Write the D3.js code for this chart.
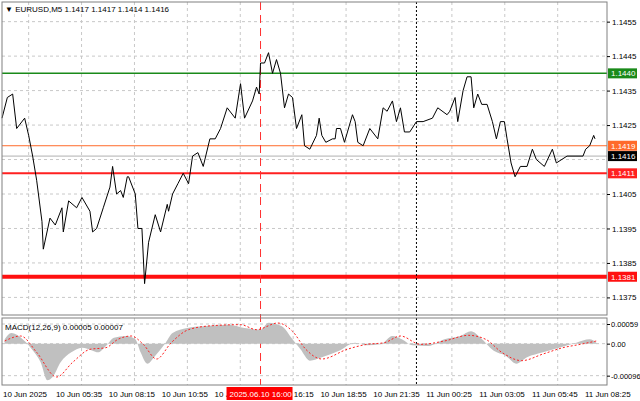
<!DOCTYPE html>
<html>
<head>
<meta charset="utf-8">
<script src="https://cdn.jsdelivr.net/npm/d3@7"></script>
<style>
body { margin: 0; background: #fff; }
text { font-family: "Liberation Sans", Arial, sans-serif; font-size: 8px; }
</style>
</head>
<body>
<div id="chart"></div>
<script>
// price trace (bar index, close)
let priceBars = [0,4,8,11,17,20,23,26,30,31,36,40,45,46,50,56,60,66,68,71,76,81,83,86,89,91,94,95,100,102,105,107,110,
  115,119,124,125,128,132,136,140,143,147,151,156,160,164,169,175,179,182,188,191,193,194,197,200,203,206,209,212,215,218,221,225,227,
  231,236,238,240,243,248,250,251,254,257,263,265,267,271,276,278,282,286,289,293,296,299,302,306,311,316,323,327,334,
  336,340,342,346,349,352,354,357,360,364,368,371,374,377,379,382,385,389,394,398,401,407,413,416,424,430,436,438,441,444,445];
let priceVals = [1.1427,1.1433,1.1434,1.1424,1.1427,1.1422,1.1416,1.1409,1.1397,1.1389,1.1398,1.1396,1.1401,1.1394,1.1403,1.1401,1.1404,1.1400,1.1394,1.1395,1.1401,1.1407,1.1413,1.1405,1.1406,1.1404,1.1410,1.1410,1.1405,1.1395,1.1395,1.1379,1.1391,
  1.1399,1.1394,1.1402,1.1400,1.1405,1.1408,1.1411,1.1408,1.1416,1.1417,1.1413,1.1421,1.1421,1.1424,1.1430,1.1427,1.1437,1.1427,1.1432,1.1436,1.1434,1.1443,1.1443,1.1446,1.1440,1.1444,1.1440,1.1430,1.1434,1.1433,1.1424,1.1428,1.1419,
  1.1418,1.1422,1.1427,1.1422,1.1420,1.1421,1.1421,1.1424,1.1424,1.1420,1.1428,1.1426,1.1420,1.1419,1.1424,1.1423,1.1421,1.1430,1.1429,1.1432,1.1426,1.1430,1.1423,1.1423,1.1426,1.1426,1.1427,1.1430,1.1428,
  1.1429,1.1433,1.1426,1.1435,1.1439,1.1439,1.1430,1.1434,1.1431,1.1431,1.1426,1.1421,1.1426,1.1426,1.1421,1.1414,1.1410,1.1413,1.1413,1.1418,1.1415,1.1413,1.1418,1.1414,1.1416,1.1416,1.1416,1.1418,1.1419,1.1422,1.1421,1.1416];

// MACD histogram and signal
let histBars = [2,7,17,23,29,34,38,44,52,60,68,72,78,84,93,100,104,109,115,122,128,139,151,170,182,194,200,210,218,224,231,240,253,265,274,284,293,300,308,320,332,344,352,359,369,378,386,394,406,418,431,441,446];
let histVals = [0.00013,0.00032,0.00008,-0.0002,-0.00056,-0.0011,-0.001,-0.00056,-0.00026,-0.00012,-0.00021,-0.00026,-0.00007,0.00018,0.00023,0.00013,-0.00026,-0.0006,-0.00036,-0.00002,0.00032,0.00047,0.00052,0.00057,0.00047,0.00042,0.00063,0.00052,0.00013,-0.00017,-0.00051,-0.00041,-0.00021,0.00003,-0.00005,-0.00002,0.00023,0.00013,-0.00005,-0.00007,0.00013,0.00023,0.00037,0.00018,-0.00021,-0.00036,-0.0006,-0.00041,-0.00026,-0.00012,0.00003,0.00013,0.00003];
let sigBars = [2,14,26,41,53,66,78,87,97,106,116,127,140,158,179,191,207,218,228,240,259,274,287,299,314,332,350,363,375,390,406,421,434,446];
let sigVals = [0.00008,0.00023,-0.00026,-0.001,-0.00056,-0.00017,-0.00012,0.00013,0.00023,-0.00002,-0.00046,0.00003,0.00042,0.00054,0.00057,0.00042,0.00062,0.00037,-0.00017,-0.00046,-0.00017,-0.00002,0.00003,0.00023,-0.00002,0.00008,0.00025,0.00013,-0.00026,-0.00051,-0.00031,-0.00012,-0.00002,0.00008];

let priceTicks = [1.1455,1.1445,1.1435,1.1425,1.1405,1.1395,1.1385,1.1375];
let gridTicks = [1.1455,1.1445,1.1435,1.1425,1.1415,1.1405,1.1395,1.1385,1.1375];
let timeTicks = ["10 Jun 2025","10 Jun 05:35","10 Jun 08:15","10 Jun 10:55","10 Jun 13:35","10 Jun 16:15","10 Jun 18:55","10 Jun 21:35","11 Jun 00:25","11 Jun 03:05","11 Jun 05:45","11 Jun 08:25"];
let levels = [
  {v: 1.1440, c: "#1a8a1a", w: 1.5, box: "#1a8a1a"},
  {v: 1.1419, c: "#ff6a2a", w: 1, box: "#ff6a2a"},
  {v: 1.1416, c: "#b0b0b0", w: 1, box: "#000"},
  {v: 1.1411, c: "#ff2020", w: 2, box: "#ff2020"},
  {v: 1.1381, c: "#ff1010", w: 4, box: "#ff1010"}
];
let markBar = 194, dotBar = 311;

let W = 640, H = 401;
let left = 2, right = 607;
let mainTop = 2, mainBot = 315, macdTop = 318, macdBot = 385;

let svg = d3.select("#chart").append("svg").attr("width", W).attr("height", H);

let x = d3.scaleLinear().domain([0, 454]).range([left, right]);
let y = d3.scaleLinear().domain([1.13699, 1.14607]).range([mainBot, mainTop]);
let ym = d3.scaleLinear().domain([-0.00124, 0.00077]).range([macdBot, macdTop]);

// grid
let gridBars = d3.range(20, 454, 39.7);
[[mainTop, mainBot], [macdTop, macdBot]].forEach(([t, b]) => {
  svg.append("g").selectAll("line").data(gridBars).enter().append("line")
    .attr("x1", d => x(d)).attr("x2", d => x(d)).attr("y1", t).attr("y2", b)
    .attr("stroke", "#c8c8c8").attr("stroke-dasharray", "3,3");
});
svg.append("g").selectAll("line").data(gridTicks).enter().append("line")
  .attr("x1", left).attr("x2", right).attr("y1", d => y(d)).attr("y2", d => y(d))
  .attr("stroke", "#c8c8c8").attr("stroke-dasharray", "3,3");
svg.append("g").selectAll("line").data([0.00059, 0, -0.00096]).enter().append("line")
  .attr("x1", left).attr("x2", right).attr("y1", d => ym(d)).attr("y2", d => ym(d))
  .attr("stroke", "#c8c8c8").attr("stroke-dasharray", "3,3");

// levels
svg.append("g").selectAll("line").data(levels).enter().append("line")
  .attr("x1", left).attr("x2", right).attr("y1", d => y(d.v)).attr("y2", d => y(d.v))
  .attr("stroke", d => d.c).attr("stroke-width", d => d.w);

// marker verticals
svg.append("line").attr("x1", x(markBar)).attr("x2", x(markBar)).attr("y1", mainTop).attr("y2", macdBot)
  .attr("stroke", "#ff3030").attr("stroke-dasharray", "8,5");
svg.append("line").attr("x1", x(dotBar)).attr("x2", x(dotBar)).attr("y1", mainTop).attr("y2", macdBot)
  .attr("stroke", "#000").attr("stroke-dasharray", "2,2");

// price line
let pts = priceBars.map((b, i) => [b, priceVals[i]]);
svg.append("path").datum(pts)
  .attr("d", d3.line().x(d => x(d[0])).y(d => y(d[1])))
  .attr("fill", "none").attr("stroke", "#000").attr("stroke-width", 1);

// macd
let hist = histBars.map((b, i) => [b, histVals[i]]);
svg.append("path").datum(hist)
  .attr("d", d3.area().x(d => x(d[0])).y0(ym(0)).y1(d => ym(d[1])).curve(d3.curveMonotoneX))
  .attr("fill", "#c0c0c0");
let sig = sigBars.map((b, i) => [b, sigVals[i]]);
svg.append("path").datum(sig)
  .attr("d", d3.line().x(d => x(d[0])).y(d => ym(d[1])).curve(d3.curveMonotoneX))
  .attr("fill", "none").attr("stroke", "#ff2020").attr("stroke-dasharray", "2,2");

// frames
[[mainTop, mainBot], [macdTop, macdBot]].forEach(([t, b]) => {
  svg.append("rect").attr("x", left).attr("y", t).attr("width", right - left).attr("height", b - t)
    .attr("fill", "none").attr("stroke", "#808080");
});

// right axis
let ra = svg.append("g").attr("transform", `translate(${right},0)`)
  .call(d3.axisRight(y).tickValues(priceTicks).tickSize(3).tickFormat(d3.format(".4f")));
ra.select(".domain").remove();
ra.selectAll("text").attr("fill", "#000").attr("x", 5).style("font-size", "8px");
let rm = svg.append("g").attr("transform", `translate(${right},0)`)
  .call(d3.axisRight(ym).tickValues([0.00059, 0, -0.00096]).tickSize(3)
    .tickFormat(d => d === 0 ? "0.00" : d.toFixed(5)));
rm.select(".domain").remove();
rm.selectAll("text").attr("fill", "#000").attr("x", 4).style("font-size", "7.5px");

// level boxes
let lb = svg.append("g").selectAll("g").data(levels).enter().append("g")
  .attr("transform", d => `translate(${right + 1},${y(d.v)})`);
lb.append("rect").attr("x", 0).attr("y", -5).attr("width", 29).attr("height", 10).attr("fill", d => d.box);
lb.append("text").attr("x", 3).attr("y", 3).attr("fill", "#fff").text(d => d.v.toFixed(4));

// bottom axis
svg.append("g").selectAll("text").data(timeTicks).enter().append("text")
  .attr("x", (d, i) => x(i * 39.7) + 1).attr("y", 397).attr("fill", "#000").text(d => d);
svg.append("rect").attr("x", x(markBar) - 34).attr("y", 387).attr("width", 66).attr("height", 13).attr("fill", "#ff0000");
svg.append("text").attr("x", x(markBar) - 31).attr("y", 397).attr("fill", "#fff").text("2025.06.10 16:00");

// headers
svg.append("text").attr("x", 5).attr("y", 12).attr("fill", "#000").text("\u25BC EURUSD,M5  1.1417 1.1417 1.1414 1.1416");
svg.append("text").attr("x", 5).attr("y", 330).attr("fill", "#000").text("MACD(12,26,9) 0.00005 0.00007");
</script>
</body>
</html>
